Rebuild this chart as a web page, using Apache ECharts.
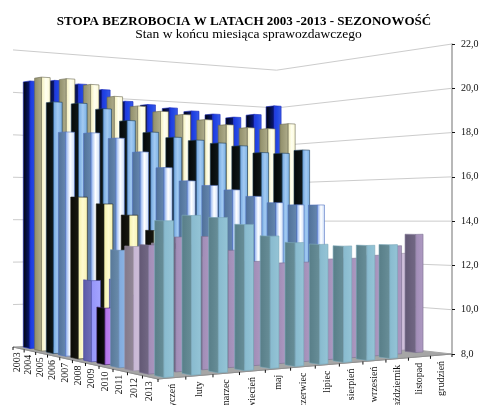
<!DOCTYPE html>
<html><head><meta charset="utf-8">
<style>html,body{margin:0;padding:0;background:#fff}#c{width:496px;height:405px}</style>
<script src="https://cdn.jsdelivr.net/npm/echarts@6/dist/echarts.min.js"></script>
</head><body><div id="c"></div>
<script>
const months=['styczeń','luty','marzec','kwiecień','maj','czerwiec','lipiec','sierpień','wrzesień','październik','listopad','grudzień'];
const years=['2003','2004','2005','2006','2007','2008','2009','2010','2011','2012','2013'];
const ticks=[8,10,12,14,16,18,20,22];
const v2003=[20.5,20.6,20.5,20.3,19.8,19.7,19.6,19.5,19.4,19.3,19.5,20.0];
const v2004=[20.6,20.6,20.4,19.9,19.5,19.3,19.2,19.0,18.8,18.7,18.7,19.0];
const v2005=[19.4,19.4,19.2,18.7,18.2,18.0,17.9,17.8,17.7,17.4,17.4,17.6];
const v2006=[18.0,18.0,17.8,17.2,16.5,15.9,15.7,15.5,15.2,14.9,14.8,14.8];
const v2007=[15.1,14.8,14.3,13.6,13.0,12.4,12.2,12.0,11.6,11.2,11.2,11.2];
const v2008=[11.5,11.5,11.1,10.5,10.0,9.6,9.4,9.3,9.1,9.0,9.1,9.5];
const v2009=[10.4,10.9,11.2,11.0,10.8,10.7,10.8,10.8,10.9,11.1,11.4,11.9];
const v2010=[12.9,13.0,12.9,12.3,11.9,11.6,11.4,11.4,11.5,11.5,11.7,12.3];
const v2011=[13.1,13.2,13.1,12.6,12.2,11.8,11.7,11.7,11.8,11.8,12.0,12.5];
const v2012=[13.2,13.5,13.5,12.9,12.4,12.3,12.3,12.4,12.4,12.5,12.9,13.4];
const v2013=[14.2,14.4,14.3,14.0,13.5,13.2,13.1,13.0,13.0,13.0,null,null];
const rows=[v2003,v2004,v2005,v2006,v2007,v2008,v2009,v2010,v2011,v2012,v2013];
// [side-face gradient stops, front-face gradient stops, outline]
const palette=[
 [['#000308','#0a1a80'],['#1a38e0','#2448e4','#3c5ce8'],'#1a2ac0'],
 [['#8f8d68','#b0ae8c'],['#f2eeb8','#fffff0','#fbf8d4'],'#6a6850'],
 [['#040808','#101818'],['#6ea4de','#a2caf2','#78aee2'],'#20405a'],
 [['#4f7098','#6688b0'],['#7ea6ec','#ffffff','#c8dcf8'],'#5070c0'],
 [['#0a0a06','#181810'],['#f4f0a8','#fdfbd0','#f6f2b0'],'#20201a'],
 [['#5a5aa8','#7070b8'],['#9494f8','#a4a4ff'],'#4848a0'],
 [['#000000','#101010'],['#b070e8','#c890f8'],'#402060'],
 [['#587898','#6a8cac'],['#80aade','#90b8e6'],'#6a8cb0'],
 [['#82788a','#928898'],['#c6b6d4','#d2c2dc'],'#9a90a4'],
 [['#625874','#726884'],['#a08cb6','#ae9ac2'],'#7a7090'],
 [['#587e88','#688e98'],['#88bace','#94c4d6'],'#7aa8b8']
];
const cam={x0:158,a1:361.8,a2:-142.4,y0:379,b1:28.1,b2:37.4,g:.15,h:.2,ex:-3,e:5,wR:1.15};
const halfS=.0145,halfT=.027;
const FONT='"Liberation Serif","Times New Roman",serif';
function proj(s,t){
  const W=1+cam.g*s+cam.h*t;
  return {W,x:(cam.x0+cam.a1*s+cam.a2*t)/W+cam.ex*s*t,y:(cam.y0+cam.b1*s+cam.b2*t)/W+cam.e*s*t};
}
function pt(s,t,hpx){const p=proj(s,t);return [p.x,p.y-hpx*cam.wR/p.W];}
// grid spans the front edge: x category slots give s, the right value axis gives heights
function sOf(api,p,m){return (api.coord([m,8])[0]-p.coordSys.x)/p.coordSys.width;}
function hOf(api,v){return api.coord([0,8])[1]-api.coord([0,v])[1];}

const barData=[];
rows.forEach((vals,r)=>{for(let m=11;m>=0;m--){if(vals[m]!=null)barData.push([m,vals[m],r]);}});

function grad(st){return new echarts.graphic.LinearGradient(0,0,1,0,st.map((c,i)=>({offset:i/(st.length-1),color:c})));}
function renderBar(p,api){
  const m=api.value(0),v=api.value(1),r=api.value(2);
  const s=sOf(api,p,m),t=(10-r+.5)/11,H=hOf(api,v),c=palette[r];
  const sl=s-halfS,sr=s+halfS,tn=t-halfT,tf=t+halfT;
  const side=[pt(sl,tf,H),pt(sl,tn,H),pt(sl,tn,0),pt(sl,tf,0)];
  const front=[pt(sl,tn,H),pt(sr,tn,H),pt(sr,tn,0),pt(sl,tn,0)];
  return {type:'group',children:[
    {type:'polygon',shape:{points:side},style:{fill:grad(c[0]),stroke:c[2],lineWidth:.6}},
    {type:'polygon',shape:{points:front},style:{fill:grad(c[1]),stroke:c[2],lineWidth:.6}}
  ]};
}
function renderGrid(p,api){
  const H=hOf(api,api.value(0));
  if(H===0)return null;
  return {type:'polyline',shape:{points:[pt(1,0,H),pt(1,1,H),pt(0,1,H)]},style:{fill:null,stroke:'#cccccc',lineWidth:1}};
}
function renderFloor(){
  return {type:'polygon',shape:{points:[pt(0,0,0),pt(1,0,0),pt(1,1,0),pt(0,1,0)]},style:{fill:'#a6a6a6',stroke:'#a6a6a6'}};
}
function renderAxes(){
  const ch=[{type:'polyline',shape:{points:[pt(0,1,0),pt(0,0,0),pt(1,0,0)]},style:{fill:null,stroke:'#909090',lineWidth:1.2}}];
  for(let i=0;i<=12;i++){const q=pt(i/12,0,0);ch.push({type:'line',shape:{x1:q[0],y1:q[1],x2:q[0],y2:q[1]+3},style:{stroke:'#111',lineWidth:1}});}
  for(let i=0;i<11;i++){const q=pt(0,(11-i)/11,0);ch.push({type:'line',shape:{x1:q[0],y1:q[1],x2:q[0],y2:q[1]+3},style:{stroke:'#111',lineWidth:1}});}
  return {type:'group',children:ch};
}
function renderMonth(p,api){
  const i=api.value(0),a=pt((i+.5)/12,0,0);
  return {type:'text',x:a[0],y:a[1]+6,rotation:Math.PI/2,style:{text:months[i],font:'10px '+FONT,fill:'#111',align:'right',verticalAlign:'middle'}};
}
function renderYear(p,api){
  const i=api.value(0),a=pt(0,(10-i+.5)/11,0);
  return {type:'text',x:a[0]-1,y:a[1]+14,rotation:Math.PI/2,style:{text:years[i],font:'10px '+FONT,fill:'#111',align:'center',verticalAlign:'middle'}};
}
const chart=echarts.init(document.getElementById('c'),null,{renderer:'canvas'});
chart.setOption({
  animation:false,backgroundColor:'#fff',
  title:[
   {text:'STOPA BEZROBOCIA W LATACH 2003 -2013 - SEZONOWOŚĆ',left:239,top:10,textAlign:'center',textStyle:{fontFamily:FONT,fontSize:13,fontWeight:'bold',color:'#000'}},
   {text:'Stan w końcu miesiąca sprawozdawczego',left:243.5,top:22.5,textAlign:'center',textStyle:{fontFamily:FONT,fontSize:13.5,fontWeight:'normal',color:'#000'}}
  ],
  grid:{left:158,right:44,top:44,bottom:51},
  xAxis:{type:'category',data:months,show:false},
  yAxis:{type:'value',position:'right',min:8,max:22,interval:2,
    axisLine:{show:true,lineStyle:{color:'#a0a0a0',width:1.5}},
    axisTick:{show:true,length:3,lineStyle:{color:'#111'}},
    splitLine:{show:false},
    axisLabel:{margin:9,fontFamily:FONT,fontSize:10,color:'#111',formatter:v=>v.toFixed(1).replace('.',',')}},
  series:[
   {type:'custom',name:'siatka',data:ticks.map(v=>[v]),encode:{x:-1,y:0},renderItem:renderGrid,z:1,silent:true},
   {type:'custom',name:'podłoga',data:[[8]],encode:{x:-1,y:0},renderItem:renderFloor,z:2,silent:true},
   {type:'custom',name:'osie',data:[[8]],encode:{x:-1,y:0},renderItem:renderAxes,z:3,silent:true},
   {type:'custom',name:'stopa',data:barData,encode:{x:0,y:1},renderItem:renderBar,z:4,silent:true},
   {type:'custom',name:'miesiące',data:months.map((_,i)=>[i]),encode:{x:-1,y:-1},renderItem:renderMonth,z:5,silent:true},
   {type:'custom',name:'lata',data:years.map((_,i)=>[i]),encode:{x:-1,y:-1},renderItem:renderYear,z:5,silent:true}
  ]
});
</script></body></html>
